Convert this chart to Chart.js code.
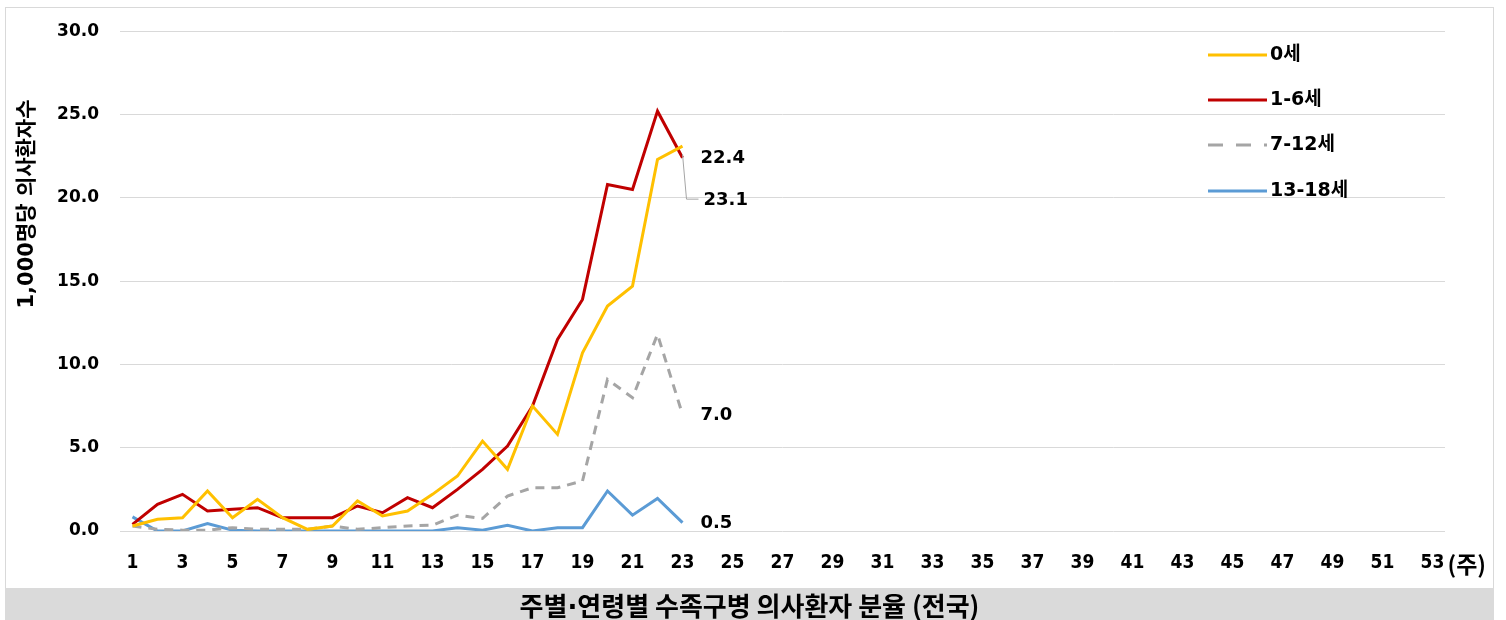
<!DOCTYPE html>
<html>
<head>
<meta charset="utf-8">
<script src="https://cdn.jsdelivr.net/npm/chart.js@4.4.1/dist/chart.umd.min.js"></script>
<style>
  html, body { margin:0; padding:0; background:#fff; }
  #wrap { position:relative; width:1506px; height:620px; overflow:hidden; }
  #c { position:absolute; left:0; top:0; }
  #frame { position:absolute; left:5px; top:7px; width:1487px; height:580px; border:1px solid #d9d9d9; pointer-events:none; }
  #band { position:absolute; left:5px; top:588px; width:1489px; height:32px; background:#dadada;
          font-family:"Noto Sans CJK KR","Noto Sans",sans-serif; font-weight:bold; font-size:26px;
          color:#000; text-align:center; line-height:34px; white-space:nowrap; }
  #band .dot { font-family:"DejaVu Sans",sans-serif; }
</style>
</head>
<body>
<div id="wrap">
  <canvas id="c" width="1506" height="588"></canvas>
  <div id="frame"></div>
  <div id="band">주별<span class="dot">·</span>연령별 수족구병 의사환자 분율 (전국)</div>
</div>
<script>
const weeks = ["1","2","3","4","5","6","7","8","9","10","11","12","13","14","15","16","17","18","19","20",
  "21","22","23","24","25","26","27","28","29","30","31","32","33","34","35","36","37","38","39","40",
  "41","42","43","44","45","46","47","48","49","50","51","52","53"];
const seriesNames = ["0세", "1-6세", "7-12세", "13-18세"];
const age0   = [0.3, 0.7, 0.8, 2.4, 0.8, 1.9, 0.8, 0.1, 0.3, 1.8, 0.9, 1.2, 2.2, 3.3, 5.4, 3.7, 7.5, 5.8, 10.7, 13.5, 14.7, 22.3, 23.1];
const age1_6 = [0.4, 1.6, 2.2, 1.2, 1.3, 1.4, 0.8, 0.8, 0.8, 1.5, 1.1, 2.0, 1.4, 2.5, 3.7, 5.1, 7.5, 11.5, 13.9, 20.8, 20.5, 25.2, 22.4];
const age7_12 = [0.3, 0.1, 0.05, 0.05, 0.2, 0.1, 0.1, 0.1, 0.3, 0.1, 0.2, 0.3, 0.35, 0.95, 0.75, 2.1, 2.6, 2.6, 3.0, 9.1, 8.0, 11.8, 7.0];
const age13_18 = [0.85, 0.0, 0.0, 0.45, 0.05, 0.0, 0.0, 0.0, 0.0, 0.0, 0.0, 0.0, 0.0, 0.2, 0.05, 0.35, 0.0, 0.2, 0.2, 2.4, 0.95, 1.95, 0.5];
const yTicks = [0, 5, 10, 15, 20, 25, 30];
const yTitle = "1,000명당 의사환자수";
const xUnit = "(주)";

const colors = ["#FFC000", "#C00000", "#A5A5A5", "#5B9BD5"];
const FONT = '"DejaVu Sans","Noto Sans CJK KR","Noto Sans",sans-serif';
const KFONT = '"Noto Sans CJK KR","Noto Sans",sans-serif';
const NARROW = '"Liberation Sans Narrow","DejaVu Sans Condensed","Noto Sans",sans-serif';

const custom = {
  id: 'custom',
  afterDatasetsDraw(chart) {
    const ctx = chart.ctx;
    const xs = chart.scales.x, ys = chart.scales.y;
    ctx.save();
    // y title
    ctx.save();
    ctx.translate(28, 204);
    ctx.rotate(-Math.PI / 2);
    ctx.font = 'bold 21px ' + FONT;
    ctx.fillStyle = '#000';
    ctx.textAlign = 'center';
    ctx.textBaseline = 'middle';
    ctx.fillText(yTitle, 0, 0);
    ctx.restore();

    // legend
    const ly = [55, 100, 145, 191];
    chart.data.datasets.forEach((ds, i) => {
      ctx.beginPath();
      ctx.strokeStyle = ds.borderColor;
      ctx.lineWidth = 3;
      ctx.setLineDash(i === 2 ? [15, 13] : []);
      ctx.moveTo(1208, ly[i]);
      ctx.lineTo(1267, ly[i]);
      ctx.stroke();
      ctx.setLineDash([]);
      ctx.font = 'bold 19px ' + FONT;
      ctx.fillStyle = '#000';
      ctx.textAlign = 'left';
      ctx.textBaseline = 'middle';
      ctx.fillText(ds.label, 1270, ly[i]);
    });

    // data labels at last point
    const last = age0.length - 1;
    const px = xs.getPixelForValue(last);
    ctx.font = 'bold 18px ' + FONT;
    ctx.fillStyle = '#000';
    ctx.textAlign = 'left';
    ctx.textBaseline = 'middle';
    const yRed = ys.getPixelForValue(age1_6[last]);
    ctx.fillText(age1_6[last].toFixed(1), px + 18, yRed + 1);
    const yYel = ys.getPixelForValue(age0[last]);
    const yYelLab = yYel + 53;
    ctx.beginPath();
    ctx.strokeStyle = '#A5A5A5';
    ctx.lineWidth = 1;
    ctx.moveTo(px, yYel + 8);
    ctx.lineTo(px + 4, yYelLab);
    ctx.lineTo(px + 16, yYelLab);
    ctx.stroke();
    ctx.fillText(age0[last].toFixed(1), px + 21, yYelLab + 1);
    const yG = ys.getPixelForValue(age7_12[last]);
    ctx.fillText(age7_12[last].toFixed(1), px + 18, yG + 1);
    const yB = ys.getPixelForValue(age13_18[last]);
    ctx.fillText(age13_18[last].toFixed(1), px + 18, yB + 1);

    // x unit
    const lx = xs.getPixelForValue(weeks.length - 1);
    ctx.font = 'bold 23px ' + KFONT;
    ctx.fillText(xUnit, lx + 15, 564);
    ctx.restore();
  }
};

new Chart(document.getElementById('c'), {
  type: 'line',
  data: {
    labels: weeks,
    datasets: [
      { label: seriesNames[0], data: age0, borderColor: colors[0], backgroundColor: colors[0], borderWidth: 3 },
      { label: seriesNames[1], data: age1_6, borderColor: colors[1], backgroundColor: colors[1], borderWidth: 3 },
      { label: seriesNames[2], data: age7_12, borderColor: colors[2], backgroundColor: colors[2], borderWidth: 3, borderDash: [9, 7] },
      { label: seriesNames[3], data: age13_18, borderColor: colors[3], backgroundColor: colors[3], borderWidth: 3 }
    ]
  },
  options: {
    responsive: false,
    animation: false,
    devicePixelRatio: 1,
    elements: { point: { radius: 0, hoverRadius: 0 }, line: { tension: 0 } },
    layout: { padding: { left: 0, right: 61, top: 28, bottom: 0 } },
    plugins: { legend: { display: false }, tooltip: { enabled: false } },
    scales: {
      x: {
        type: 'category',
        offset: true,
        grid: { display: false, drawTicks: false },
        border: { display: false },
        ticks: {
          autoSkip: false, maxRotation: 0, padding: 21,
          color: '#000',
          font: { family: NARROW, size: 19, weight: 'bold' },
          callback: function(v, i) { return (i % 2 === 0) ? weeks[i] : ''; }
        },
        afterFit: function(s) { s.height = 57; }
      },
      y: {
        min: 0, max: 30,
        afterBuildTicks: function(s) { s.ticks = yTicks.map(v => ({ value: v })); },
        grid: { color: '#d9d9d9', lineWidth: 1, drawTicks: false },
        border: { display: false },
        ticks: {
          padding: 21, color: '#000',
          font: { family: FONT, size: 17, weight: 'bold' },
          callback: function(v) { return Number(v).toFixed(1); }
        },
        afterFit: function(s) { s.width = 120; }
      }
    }
  },
  plugins: [custom]
});
</script>
</body>
</html>
